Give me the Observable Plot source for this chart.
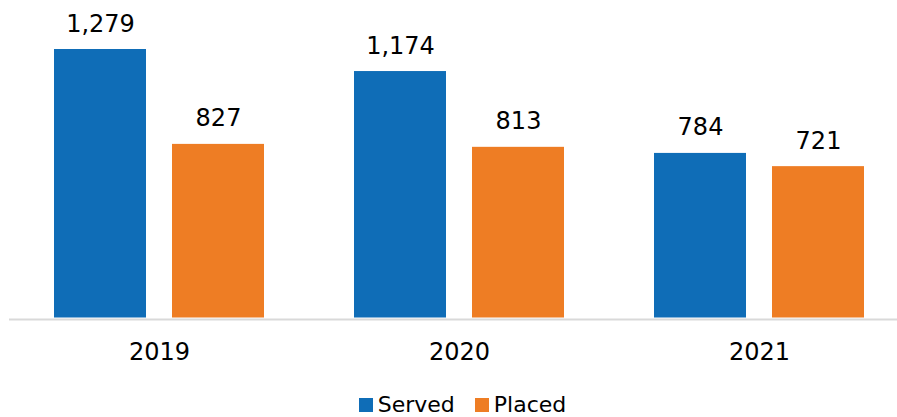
<!DOCTYPE html>
<html>
<head>
<meta charset="utf-8">
<script src="https://cdn.jsdelivr.net/npm/d3@7"></script>
<script src="https://cdn.jsdelivr.net/npm/@observablehq/plot@0.6"></script>
<style>
  html, body { margin: 0; padding: 0; background: #fff; }
  body { width: 897px; height: 417px; overflow: hidden; font-family: "DejaVu Sans", sans-serif; }
  #chart svg { display: block; }
  #legend { display: flex; justify-content: center; align-items: center; padding-left: 28px; padding-top: 4px; height: 25px; font-size: 22px; line-height: 25px; color: #000; }
  .item { display: flex; align-items: center; margin: 0 10px; }
  .sw { width: 14px; height: 14px; margin-right: 5px; display: inline-block; }
</style>
</head>
<body>
<div id="chart"></div>
<div id="legend"></div>
<script>
const years = ["2019", "2020", "2021"];
const seriesNames = ["Served", "Placed"];
const served = [1279, 1174, 784];
const placed = [827, 813, 721];
const colors = ["#0f6db7", "#ee7d24"];

const data = [];
years.forEach((y, i) => {
  data.push({year: y, series: "Served", value: served[i]});
  data.push({year: y, series: "Placed", value: placed[i]});
});

const chart = Plot.plot({
  width: 897,
  height: 388,
  marginTop: 0,
  marginBottom: 70,
  marginLeft: 9,
  marginRight: 0,
  style: {fontFamily: "DejaVu Sans, sans-serif", fontSize: "24px", color: "#000", background: "#fff", overflow: "hidden"},
  fx: {domain: years, range: [9, 909], paddingInner: 0, paddingOuter: 0, label: null},
  x: {domain: seriesNames, paddingInner: 0.22, paddingOuter: 0.381, axis: null},
  y: {domain: [0, 1279], range: [317.5, 49], axis: null},
  color: {domain: seriesNames, range: colors},
  marks: [
    Plot.barY(data, {fx: "year", x: "series", y: "value", fill: "series"}),
    Plot.ruleY([0], {stroke: "#d9d9d9", strokeWidth: 2, dy: 1.5}),
    Plot.text(data, {fx: "year", x: "series", y: "value", text: d => d3.format(",")(d.value), lineAnchor: "bottom", dy: -18, fontSize: 24, fill: "#000"}),
    Plot.axisFx({anchor: "bottom", tickSize: 0, tickPadding: 24, fontSize: 24, label: null, fill: "#000"})
  ]
});
document.getElementById("chart").appendChild(chart);

const legend = document.getElementById("legend");
seriesNames.forEach((s, i) => {
  const item = document.createElement("span");
  item.className = "item";
  const sw = document.createElement("span");
  sw.className = "sw";
  sw.style.background = colors[i];
  item.appendChild(sw);
  item.appendChild(document.createTextNode(s));
  legend.appendChild(item);
});
</script>
</body>
</html>
